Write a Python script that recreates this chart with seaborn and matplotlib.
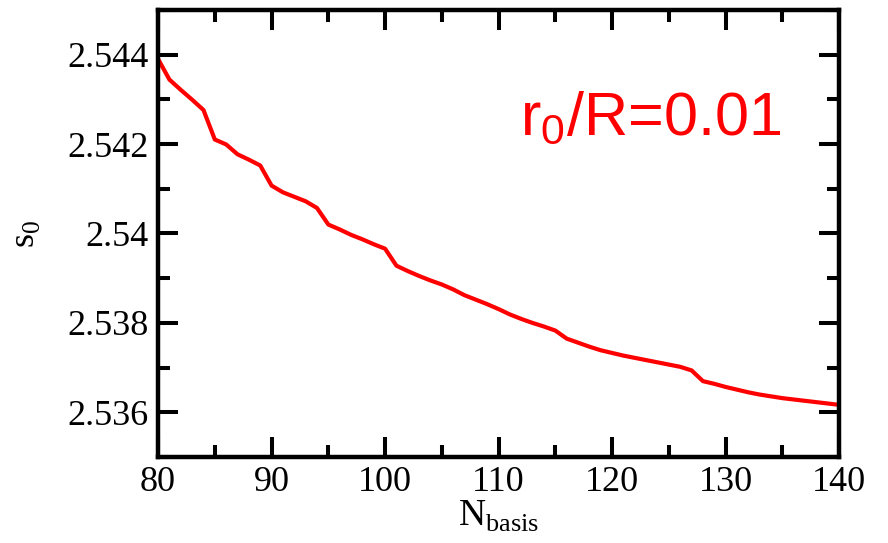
import numpy as np
import pandas as pd
import matplotlib
matplotlib.use("Agg")
import matplotlib.pyplot as plt
from matplotlib.ticker import MultipleLocator, FuncFormatter
import seaborn as sns

# ---------------------------------------------
# DATA — s0 vs basis size
# ---------------------------------------------
n_basis = list(range(80, 141))
s0 = [
    2.54390, 2.54344, 2.54321, 2.54299, 2.54276, 2.54210, 2.54199, 2.54177,
    2.54165, 2.54152, 2.54107, 2.54092, 2.54082, 2.54072, 2.54057, 2.54020,
    2.54009, 2.53997, 2.53987, 2.53976, 2.53966, 2.53928, 2.53916, 2.53905,
    2.53895, 2.53886, 2.53875, 2.53862, 2.53852, 2.53842, 2.53831, 2.53819,
    2.53809, 2.53800, 2.53792, 2.53783, 2.53765, 2.53756, 2.53747, 2.53739,
    2.53733, 2.53727, 2.53722, 2.53717, 2.53712, 2.53707, 2.53702, 2.53694,
    2.53670, 2.53664, 2.53657, 2.53651, 2.53645, 2.53640, 2.53636, 2.53632,
    2.53629, 2.53626, 2.53623, 2.53620, 2.53617,
]
x_ticks = [80, 90, 100, 110, 120, 130, 140]
y_ticks = [2.536, 2.538, 2.540, 2.542, 2.544]
label_text = r"r$_\mathregular{0}$/R=0.01"

df = pd.DataFrame({"N": n_basis, "s0": s0})

# ---------------------------------------------
# STYLE
# ---------------------------------------------
sns.set_style("ticks")
plt.rcParams["font.family"] = ["Liberation Serif", "DejaVu Serif"]
plt.rcParams["axes.labelcolor"] = "black"
plt.rcParams["text.color"] = "black"

fig = plt.figure(figsize=(8.88, 5.43), dpi=100)
ax = fig.add_axes([0.178, 0.158, 0.767, 0.824])

sns.lineplot(data=df, x="N", y="s0", color="red", linewidth=3, ax=ax)

ax.set_xlim(80, 140)
ax.set_ylim(2.535, 2.545)
ax.set_xticks(x_ticks)
ax.set_yticks(y_ticks)
ax.xaxis.set_minor_locator(MultipleLocator(5))
ax.yaxis.set_minor_locator(MultipleLocator(0.001))
ax.yaxis.set_major_formatter(FuncFormatter(lambda v, p: f"{round(v, 3):g}"))

for side in ax.spines.values():
    side.set_linewidth(3.2)
    side.set_color("black")

ax.tick_params(which="both", direction="in", top=True, right=True,
               width=2.9, color="black", labelsize=26, labelcolor="black")
ax.tick_params(which="major", length=14.5)
ax.tick_params(which="minor", length=8.5)
ax.tick_params(axis="x", which="major", pad=6)
ax.tick_params(axis="y", which="major", pad=7)

ax.set_xlabel(r"N$_\mathregular{basis}$", fontsize=27, labelpad=0, color="black")
ax.set_ylabel(r"s$_\mathregular{0}$", fontsize=26, labelpad=18, color="black")

ax.text(0.532, 0.72, label_text, transform=ax.transAxes, color="red",
        fontsize=44, family=["Liberation Sans", "DejaVu Sans"],
        ha="left", va="baseline")

plt.savefig("out.png", dpi=100)
